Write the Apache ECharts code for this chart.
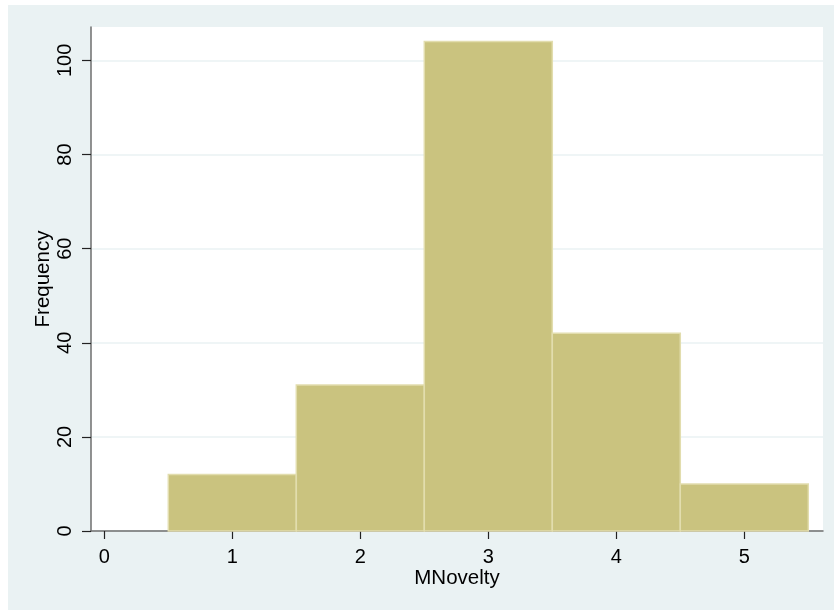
<!DOCTYPE html>
<html>
<head>
<meta charset="utf-8">
<script src="https://cdn.jsdelivr.net/npm/echarts@6/dist/echarts.min.js"></script>
<style>
html,body{margin:0;padding:0;background:#fff;}
#chart{width:834px;height:610px;}
</style>
</head>
<body>
<div id="chart"></div>
<script>
const binLow = [0.5, 1.5, 2.5, 3.5, 4.5];
const binHigh = [1.5, 2.5, 3.5, 4.5, 5.5];
const frequencies = [12, 31, 104, 42, 10];
const xTickValues = [0, 1, 2, 3, 4, 5];
const yTickValues = [0, 20, 40, 60, 80, 100];

const chart = echarts.init(document.getElementById('chart'));
const font = 'Liberation Sans, Arial, sans-serif';
const data = binLow.map((lo, i) => [lo, binHigh[i], frequencies[i]]);

chart.setOption({
  backgroundColor: '#ffffff',
  animation: false,
  graphic: [{
    type: 'rect', z: -10, silent: true,
    shape: {x: 8, y: 5, width: 826, height: 605},
    style: {fill: '#EAF2F3'}
  }, {
    type: 'rect', z: -9, silent: true,
    shape: {x: 91, y: 27, width: 732, height: 504},
    style: {fill: '#ffffff'}
  }],
  grid: {left: 91, right: 11, top: 27, bottom: 79, containLabel: false},
  xAxis: {
    type: 'value', min: -0.104, max: 5.615,
    name: 'MNovelty', nameLocation: 'middle', nameGap: 37, nameMoveOverlap: false,
    nameTextStyle: {fontFamily: font, fontSize: 20.5, color: '#000'},
    axisLine: {show: true, onZero: false, lineStyle: {color: '#6e6e6e', width: 1.5}},
    axisTick: {show: true, length: 8, customValues: xTickValues, lineStyle: {color: '#222', width: 1.2}},
    axisLabel: {customValues: xTickValues, margin: 16, fontFamily: font, fontSize: 20, color: '#000'},
    splitLine: {show: false}
  },
  yAxis: {
    type: 'value', min: 0, max: 107.1, interval: 20,
    name: 'Frequency', nameLocation: 'middle', nameGap: 37, nameRotate: 90, nameMoveOverlap: false,
    nameTextStyle: {fontFamily: font, fontSize: 20.5, color: '#000'},
    axisLine: {show: true, onZero: false, lineStyle: {color: '#6e6e6e', width: 1.5}},
    axisTick: {show: true, length: 9, customValues: yTickValues, lineStyle: {color: '#222', width: 1.2}},
    axisLabel: {customValues: yTickValues, rotate: 90, margin: 16, fontFamily: font, fontSize: 20, color: '#000'},
    splitLine: {show: true, lineStyle: {color: '#EAF2F3', width: 1.5}}
  },
  series: [{
    type: 'custom',
    data: data,
    encode: {x: [0, 1], y: 2},
    renderItem: function (params, api) {
      const p0 = api.coord([api.value(0), api.value(2)]);
      const p1 = api.coord([api.value(1), 0]);
      return {
        type: 'rect',
        shape: {x: p0[0], y: p0[1], width: p1[0] - p0[0], height: p1[1] - p0[1]},
        style: {fill: '#CAC37F', stroke: '#E2DDAE', lineWidth: 1.5}
      };
    }
  }]
});
</script>
</body>
</html>
